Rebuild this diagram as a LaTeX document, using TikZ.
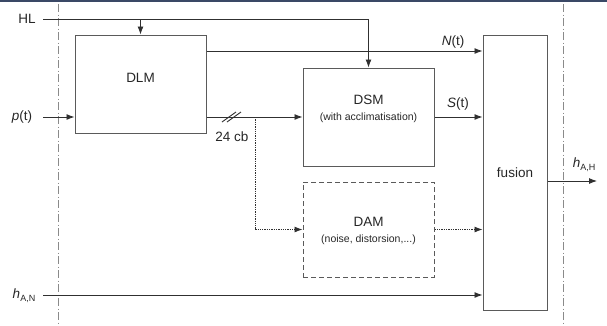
\documentclass[tikz,border=0pt]{standalone}
\usepackage{fontspec}
\setmainfont{Liberation Sans}
\usetikzlibrary{arrows.meta,calc}
\definecolor{wirec}{HTML}{303030}
\definecolor{boxc}{HTML}{5A5A5A}
\definecolor{guidec}{HTML}{8A8A8A}
\definecolor{barc}{HTML}{3A4866}
\newcommand{\subtxt}[1]{\raisebox{-0.4ex}{\fontsize{9}{9}\selectfont #1}}
\begin{document}
\begin{tikzpicture}[x=1pt,y=-1pt,
  wire/.style={draw=wirec, line width=0.9pt},
  arr/.style={wire, -{Latex[length=8pt,width=6pt]}},
  dotarr/.style={arr, dash pattern=on 1.3pt off 1pt},
  blk/.style={draw=boxc, line width=1pt, inner sep=0pt, rectangle},
  dashblk/.style={blk, dash pattern=on 5pt off 3pt},
  txt/.style={font=\fontsize{13.5}{15}\selectfont, inner sep=0pt, text=black!85},
  small/.style={font=\fontsize{10.5}{12}\selectfont, inner sep=0pt, text=black!85},
  guide/.style={draw=guidec, line width=1.7pt, dash pattern=on 8pt off 2.5pt on 1pt off 2.5pt}]
\useasboundingbox (0,0) rectangle (607,325);

% top rule
\fill[barc] (0,0) rectangle (607,1.8);

% system boundaries
\coordinate (gl0) at (58.5,4);
\coordinate (gl1) at (58.5,325);
\coordinate (gr0) at (563.5,4);
\coordinate (gr1) at (563.5,325);
\draw[guide] (gl0) -- (gl1);
\draw[guide] (gr0) -- (gr1);

% blocks
\node[blk, minimum width=131pt, minimum height=98pt] (dlm) at (140.5,84) {};
\node[txt] (dlmt) at (140.5,78) {DLM};
\node[blk, minimum width=131pt, minimum height=98pt] (dsm) at (368.5,117) {};
\node[txt] (dsmt) at (368.5,100) {DSM};
\node[small] (dsms) at (368.5,118) {(with acclimatisation)};
\node[dashblk, minimum width=131pt, minimum height=95pt] (dam) at (368.5,229.5) {};
\node[txt] (damt) at (368.5,222) {DAM};
\node[small] (dams) at (368.5,240) {(noise, distorsion,...)};
\node[blk, minimum width=64pt, minimum height=275pt] (fus) at (515,172.5) {};
\node[txt] (fust) at (515,173) {fusion};

% inputs
\node[txt] (hl) at (27,19) {HL};
\coordinate (hlA) at (43,19);
\draw[arr] (hlA) -| (dsm.north);
\draw[arr] (dlm.north |- hlA) -- (dlm.north);

\node[txt] (pt) at (22,117) {\textit{p}(t)};
\coordinate (ptA) at (43,117);
\draw[arr] (ptA) -- (dlm.west |- ptA);

\node[txt] (han) at (24,296) {\textit{h}\subtxt{A,N}};
\coordinate (hanA) at (43,295);
\draw[arr] (hanA) -- (fus.west |- hanA);

% DLM outputs
\coordinate (nA) at (206,51);
\draw[arr] (dlm.east |- nA) -- (fus.west |- nA);
\node[txt] (nt) at (453,42) {\textit{N}(t)};

\draw[arr] (dlm.east |- dsm.west) -- (dsm.west);
\coordinate (s1) at (229,117);
\coordinate (s2) at (234,117);
\draw[wire] ($(s1)+(-7,5)$) -- ($(s1)+(7,-5)$);
\draw[wire] ($(s2)+(-7,5)$) -- ($(s2)+(7,-5)$);
\node[txt] (cb) at (232,137) {24 cb};

\coordinate (br) at (255,117);
\draw[dotarr] (br) |- (dam.west);

% DSM / DAM into fusion
\draw[arr] (dsm.east) -- (fus.west |- dsm.east);
\node[txt] (st) at (458,104) {\textit{S}(t)};
\draw[dotarr] (dam.east) -- (fus.west |- dam.east);

% output
\coordinate (outA) at (597,181);
\draw[arr] (fus.east |- outA) -- (outA);
\node[txt] (hah) at (584,165) {\textit{h}\subtxt{A,H}};
\end{tikzpicture}
\end{document}
